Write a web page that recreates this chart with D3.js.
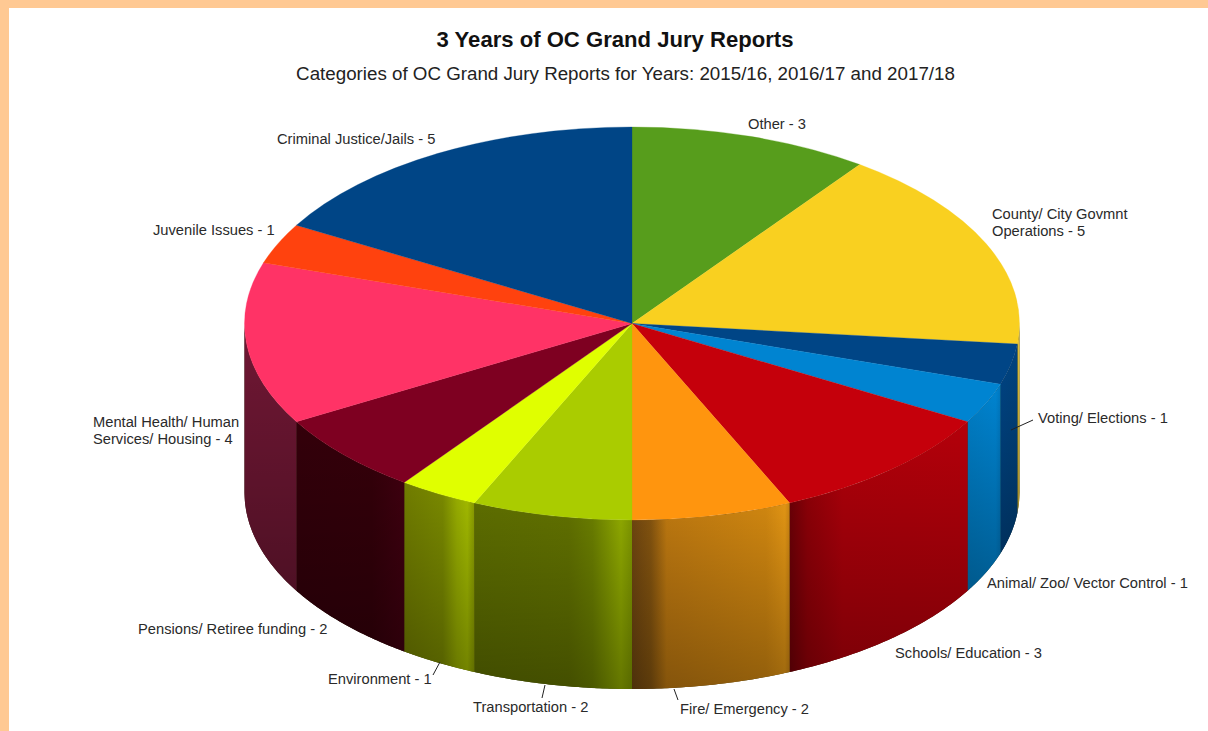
<!DOCTYPE html>
<html>
<head>
<meta charset="utf-8">
<script src="https://cdnjs.cloudflare.com/ajax/libs/d3/7.8.5/d3.min.js"></script>
<style>
  html, body { margin: 0; padding: 0; background: #fff; }
  svg { display: block; font-family: "Liberation Sans", Arial, sans-serif; }
</style>
</head>
<body>
<svg id="chart" width="1208" height="731"></svg>
<script>
// Report counts per category, clockwise from twelve o'clock.
const categories = ["Other", "County/ City Govmnt Operations", "Voting/ Elections", "Animal/ Zoo/ Vector Control",
  "Schools/ Education", "Fire/ Emergency", "Transportation", "Environment",
  "Pensions/ Retiree funding", "Mental Health/ Human Services/ Housing", "Juvenile Issues", "Criminal Justice/Jails"];
const counts = [3, 5, 1, 1, 3, 2, 2, 1, 2, 4, 1, 5];
const topColors = ["#579d1c", "#f9d020", "#004586", "#0084d1", "#c5000b", "#ff950e", "#aacc00", "#e0ff00",
  "#7e0021", "#ff3366", "#ff420e", "#004586"];

// Horizontal shading of each slice's outer wall, as [offset, colour] stops.
const wallShades = [
  [[0, "#579d1c"], [1, "#579d1c"]],
  [[0, "#e6c63a"], [1, "#e6c63a"]],
  [[0, "#004586"], [1, "#00437f"]],
  [[0, "#007fc8"], [0.85, "#0084d1"], [1, "#0078c0"]],
  [[0, "#720007"], [0.1, "#960008"], [0.3, "#b2000a"], [1, "#b4000a"]],
  [[0, "#6e4510"], [0.12, "#84540f"], [0.22, "#bd7810"], [0.85, "#cf8610"], [0.97, "#e09414"], [1, "#c88212"]],
  [[0, "#5c6c00"], [0.6, "#607000"], [0.75, "#6a7e00"], [0.93, "#90aa00"], [1, "#7e9600"]],
  [[0, "#707c00"], [0.55, "#7a8a00"], [0.75, "#98ae00"], [0.9, "#a4bc00"], [1, "#8a9c00"]],
  [[0, "#33000a"], [0.7, "#35000a"], [1, "#420010"]],
  [[0, "#701734"], [1, "#701734"]],
  [[0, "#ff420e"], [1, "#ff420e"]],
  [[0, "#004586"], [1, "#004586"]]
];

// Label text lines with their anchor; leaders join a label to its wall.
const labelLayout = [
  { lines: ["Other - 3"], x: 748, y: 129 },
  { lines: ["County/ City Govmnt", "Operations - 5"], x: 992, y: 219 },
  { lines: ["Voting/ Elections - 1"], x: 1038, y: 423, leader: [[1011, 430], [1033, 420]] },
  { lines: ["Animal/ Zoo/ Vector Control - 1"], x: 987, y: 588 },
  { lines: ["Schools/ Education - 3"], x: 895, y: 658 },
  { lines: ["Fire/ Emergency - 2"], x: 680, y: 714, leader: [[674, 689], [678, 700]] },
  { lines: ["Transportation - 2"], x: 473, y: 712, leader: [[545, 685], [542, 698]] },
  { lines: ["Environment - 1"], x: 328, y: 684, leader: [[440, 662], [433, 675]] },
  { lines: ["Pensions/ Retiree funding - 2"], x: 138, y: 634 },
  { lines: ["Mental Health/ Human", "Services/ Housing - 4"], x: 93, y: 427 },
  { lines: ["Juvenile Issues - 1"], x: 153, y: 235 },
  { lines: ["Criminal Justice/Jails - 5"], x: 277, y: 144 }
];

const width = 1208, height = 731;
const cx = 632, cy = 323.5, rx = 387.5, ry = 196.5, depth = 169;

const svg = d3.select("#chart");
svg.append("rect").attr("width", width).attr("height", height).attr("fill", "#fff");
svg.append("rect").attr("width", width).attr("height", 8).attr("fill", "#ffc993");
svg.append("rect").attr("width", 9).attr("height", height).attr("fill", "#ffc993");

const defs = svg.append("defs");
const slices = d3.pie().sort(null).startAngle(0).endAngle(2 * Math.PI)(counts);

// Darkening towards the lower rim, laid over each wall's horizontal shading.
const fade = defs.append("linearGradient").attr("id", "wall-fade")
  .attr("x1", 0).attr("y1", 0).attr("x2", 0).attr("y2", 1);
fade.append("stop").attr("offset", 0).attr("stop-color", "#000").attr("stop-opacity", 0);
fade.append("stop").attr("offset", 1).attr("stop-color", "#000").attr("stop-opacity", 0.3);

wallShades.forEach((stops, i) => {
  const g = defs.append("linearGradient").attr("id", "wall-" + i)
    .attr("x1", 0).attr("y1", 0).attr("x2", 1).attr("y2", 0);
  stops.forEach(([o, c]) => g.append("stop").attr("offset", o).attr("stop-color", c));
});

const rimX = a => cx + rx * Math.sin(a);
const rimY = a => cy - ry * Math.cos(a);

// Front-facing stretch of rim between two angles, swept down by the depth.
function sweptRim(start, end) {
  const a0 = Math.max(start, Math.PI / 2), a1 = Math.min(end, 3 * Math.PI / 2);
  if (a1 <= a0) return null;
  const angles = d3.range(0, 61).map(k => a0 + (a1 - a0) * k / 60);
  const upper = angles.map(a => [rimX(a), rimY(a)]);
  const lower = angles.slice().reverse().map(a => [rimX(a), rimY(a) + depth]);
  return d3.line()(upper.concat(lower)) + "Z";
}

const walls = svg.append("g");
// Dark backing so neighbouring walls leave no pale seam where they meet.
walls.append("path").attr("d", sweptRim(Math.PI / 2, 3 * Math.PI / 2)).attr("fill", "#2a2a10");
slices.forEach((d, i) => {
  const p = sweptRim(d.startAngle, d.endAngle);
  if (!p) return;
  walls.append("path").attr("d", p).attr("fill", `url(#wall-${i})`);
  walls.append("path").attr("d", p).attr("fill", "url(#wall-fade)");
});

// Top face: a circular pie squashed to the ellipse of the disc.
const arc = d3.arc().innerRadius(0).outerRadius(rx);
svg.append("g")
  .attr("transform", `translate(${cx},${cy}) scale(1,${ry / rx})`)
  .selectAll("path").data(slices).join("path")
  .attr("d", arc)
  .attr("fill", (d, i) => topColors[i])
  .attr("stroke", (d, i) => topColors[i])
  .attr("stroke-width", 0.4);

// Title block.
svg.append("text").attr("x", 615).attr("y", 47).attr("text-anchor", "middle")
  .attr("font-size", 22.1).attr("font-weight", "bold").attr("fill", "#111")
  .text("3 Years of OC Grand Jury Reports");
svg.append("text").attr("x", 625.5).attr("y", 80).attr("text-anchor", "middle")
  .attr("font-size", 18.75).attr("fill", "#222")
  .text("Categories of OC Grand Jury Reports for Years: 2015/16, 2016/17 and 2017/18");

// Slice labels and their leaders.
const labels = svg.append("g").attr("font-size", 14.7).attr("fill", "#2a2a2a");
labelLayout.forEach(l => {
  const t = labels.append("text").attr("x", l.x).attr("y", l.y);
  l.lines.forEach((line, k) => t.append("tspan").attr("x", l.x).attr("dy", k ? 17 : 0).text(line));
  if (l.leader) {
    labels.append("path").attr("d", d3.line()(l.leader))
      .attr("stroke", "#222").attr("stroke-width", 1).attr("fill", "none");
  }
});
</script>
</body>
</html>
